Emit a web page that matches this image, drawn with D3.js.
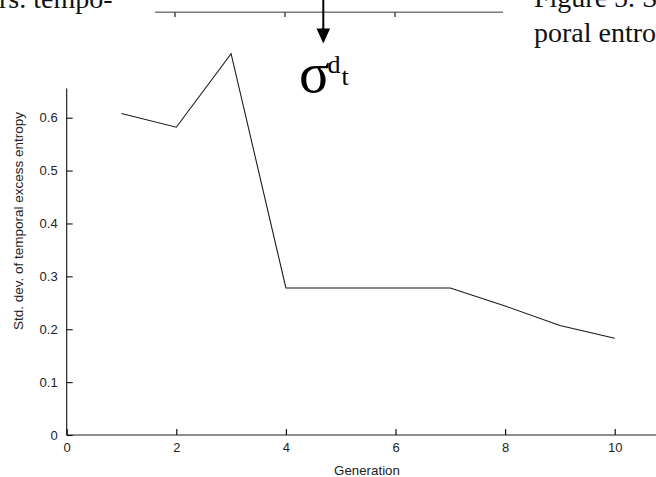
<!DOCTYPE html>
<html>
<head>
<meta charset="utf-8">
<script src="https://cdn.jsdelivr.net/npm/d3@7/dist/d3.min.js"></script>
<style>
  html, body { margin: 0; padding: 0; background: #fff; }
  svg { display: block; }
</style>
</head>
<body>
<svg id="chart" width="656" height="477"></svg>
<script>
// ---- data ----
const generations = [1, 2, 3, 4, 5, 6, 7, 8, 9, 10];
const stdDevValues = [0.608, 0.582, 0.721, 0.278, 0.278, 0.278, 0.278, 0.244, 0.207, 0.183];
const xTickValues = [0, 2, 4, 6, 8, 10];
const yTickValues = [0, 0.1, 0.2, 0.3, 0.4, 0.5, 0.6];
const xLabel = "Generation";
const yLabel = "Std. dev. of temporal excess entropy";
const symbolBase = "σ", symbolSup = "d", symbolSub = "t";
const textLeft = "rs. tempo-";
const textRightLines = ["Figure 5.  S", "poral entro"];

// ---- layout ----
const W = 656, H = 477;
const svg = d3.select("#chart");
const x = d3.scaleLinear().domain([0, 10]).range([66.7, 614.7]);
const y = d3.scaleLinear().domain([0, 0.6]).range([435, 117.7]);
const yAxisTopValue = 0.655;

const tickFont = "'Liberation Sans', Arial, sans-serif";
const serif = "'Liberation Serif', 'Times New Roman', serif";

// x axis
const gx = svg.append("g").attr("transform", `translate(0,${y(0)})`)
  .call(d3.axisBottom(x).tickValues(xTickValues).tickFormat(d3.format("d"))
    .tickSize(-6).tickSizeOuter(0).tickPadding(8));
gx.select(".domain").remove();
gx.insert("line", ":first-child").attr("x1", x(0)).attr("x2", W).attr("y1", 0).attr("y2", 0)
  .attr("stroke", "#6a6a6a").attr("stroke-width", 1.6);
gx.selectAll(".tick line").attr("stroke", "#111").attr("stroke-width", 1.2);
gx.selectAll(".tick text").attr("font-family", tickFont).attr("font-size", 13).attr("fill", "#222");

// y axis
const gy = svg.append("g").attr("transform", `translate(${x(0)},0)`)
  .call(d3.axisLeft(y).tickValues(yTickValues).tickFormat(d => d === 0 ? "0" : d3.format(".1f")(d))
    .tickSize(-6).tickSizeOuter(0).tickPadding(9));
gy.select(".domain").remove();
gy.insert("line", ":first-child").attr("x1", 0).attr("x2", 0).attr("y1", y(0)).attr("y2", y(yAxisTopValue))
  .attr("stroke", "#111").attr("stroke-width", 1.1);
gy.selectAll(".tick line").attr("stroke", "#111").attr("stroke-width", 1.1);
gy.selectAll(".tick text").attr("font-family", tickFont).attr("font-size", 13).attr("fill", "#222");

// axis labels
svg.append("text").attr("x", 367).attr("y", 470).attr("dy", "0.35em")
  .attr("text-anchor", "middle").attr("font-family", tickFont).attr("font-size", 13.3)
  .attr("fill", "#222").text(xLabel);
svg.append("text").attr("transform", `translate(18.5,221) rotate(-90)`).attr("dy", "0.35em")
  .attr("text-anchor", "middle").attr("font-family", tickFont).attr("font-size", 13.5)
  .attr("fill", "#222").text(yLabel);

// data line
const line = d3.line().x((d, i) => x(generations[i])).y(d => y(d));
svg.append("path").datum(stdDevValues).attr("d", line)
  .attr("fill", "none").attr("stroke", "#1a1a1a").attr("stroke-width", 1.1);

// ---- surrounding page fragments (decoration) ----
const deco = svg.append("g");
deco.append("line").attr("x1", 155).attr("x2", 503).attr("y1", 12.3).attr("y2", 12.3)
  .attr("stroke", "#7a7a7a").attr("stroke-width", 1.6);
[175, 285, 395].forEach(px => deco.append("line").attr("x1", px).attr("x2", px)
  .attr("y1", 12.3).attr("y2", 17).attr("stroke", "#222").attr("stroke-width", 1.2));
// arrow
deco.append("line").attr("x1", 323.3).attr("x2", 323.3).attr("y1", 0).attr("y2", 30)
  .attr("stroke", "#000").attr("stroke-width", 2);
deco.append("path").attr("d", "M316.5,28.5 L330.1,28.5 L323.3,43.5 Z").attr("fill", "#000");
// sigma symbol
const sym = deco.append("text").attr("font-family", serif).attr("fill", "#000");
sym.append("tspan").attr("x", 299).attr("y", 91.5).attr("font-size", 57).text(symbolBase);
sym.append("tspan").attr("x", 327.5).attr("y", 73).attr("font-size", 26).text(symbolSup);
sym.append("tspan").attr("x", 341.5).attr("y", 85).attr("font-size", 26).text(symbolSub);
// page text
deco.append("text").attr("x", -1).attr("y", 8).attr("font-family", serif).attr("font-size", 28)
  .attr("fill", "#111").text(textLeft);
textRightLines.forEach((t, i) => deco.append("text").attr("x", 534).attr("y", 7 + i * 35)
  .attr("font-family", serif).attr("font-size", 28).attr("fill", "#111").text(t));
</script>
</body>
</html>
